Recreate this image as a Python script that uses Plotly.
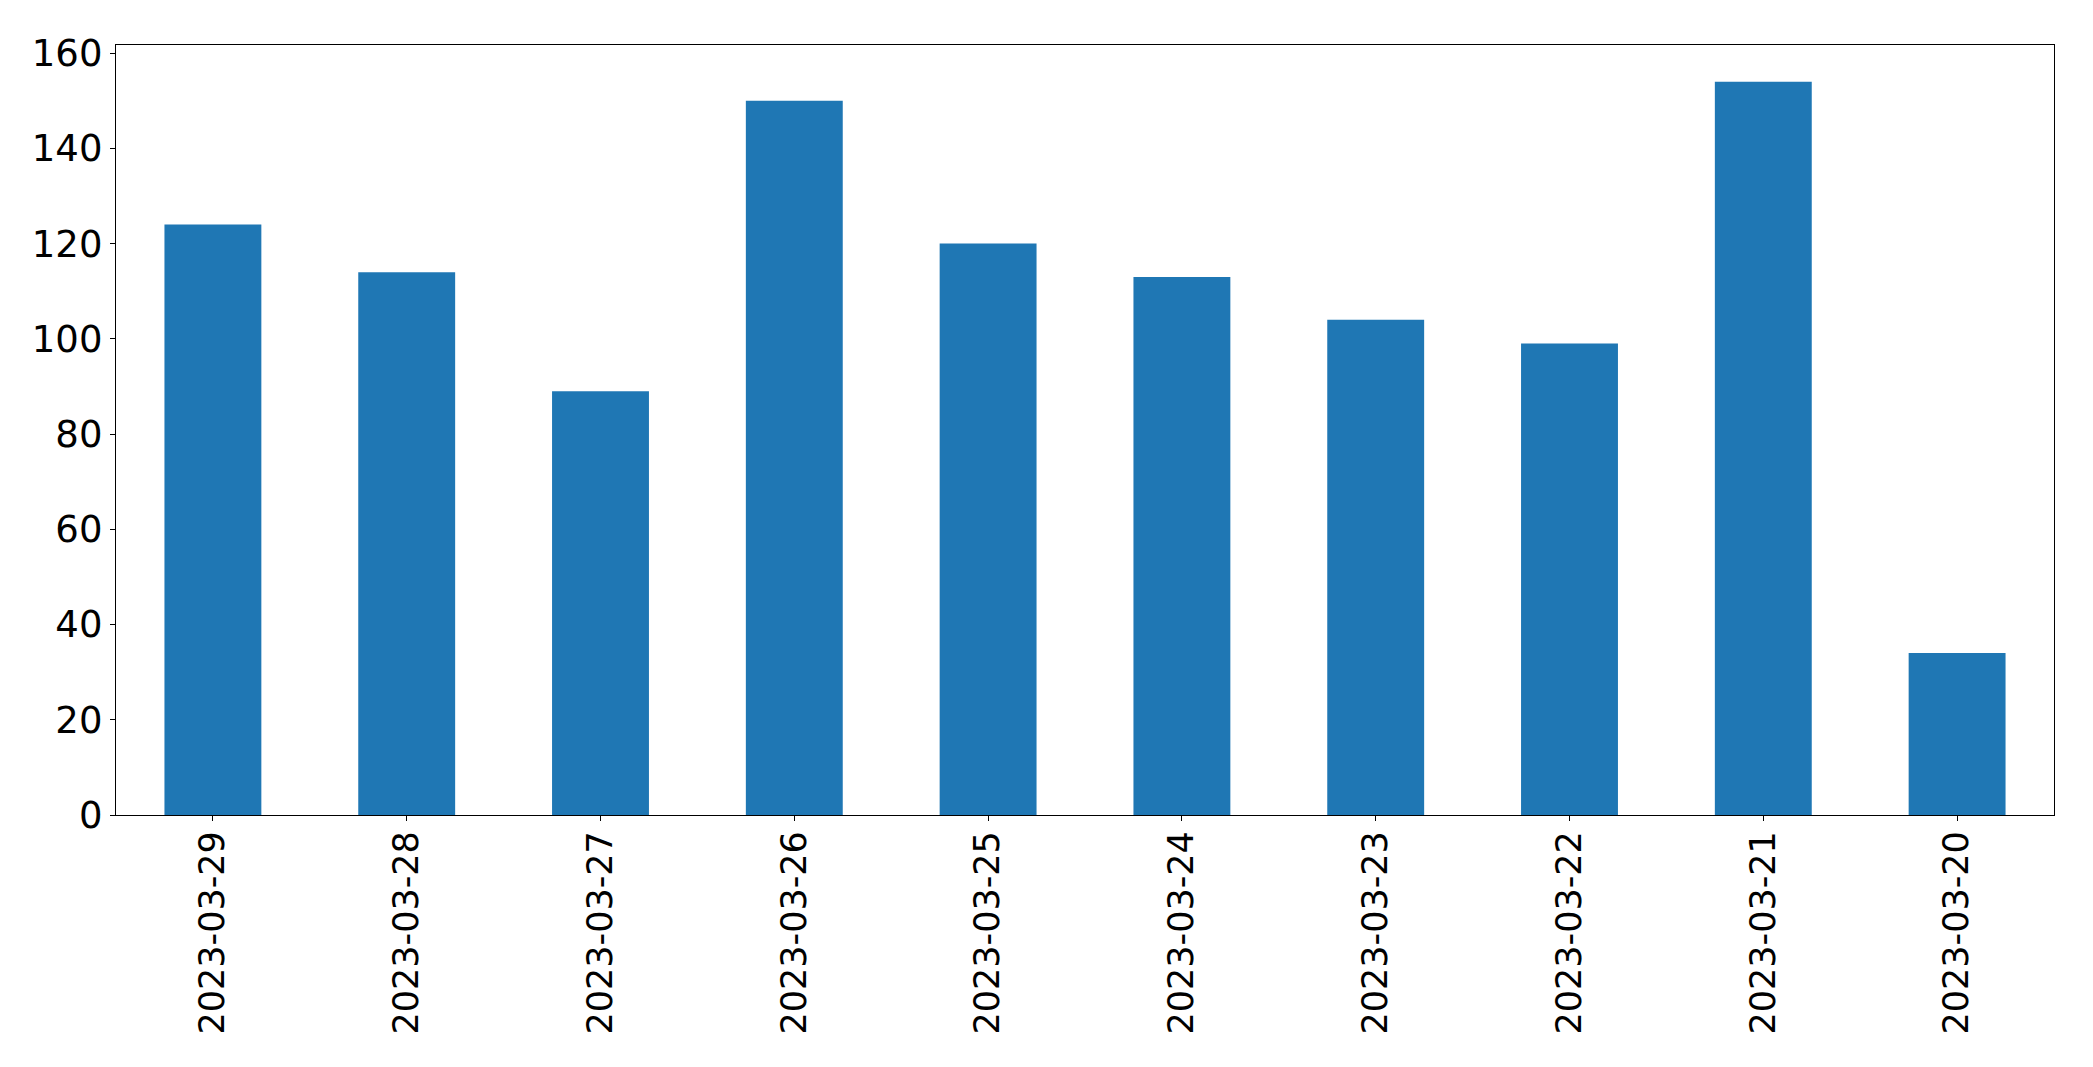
import plotly.graph_objects as go

dates = ["2023-03-29", "2023-03-28", "2023-03-27", "2023-03-26", "2023-03-25",
         "2023-03-24", "2023-03-23", "2023-03-22", "2023-03-21", "2023-03-20"]
counts = [124, 114, 89, 150, 120, 113, 104, 99, 154, 34]
y_ticks = [0, 20, 40, 60, 80, 100, 120, 140, 160]

fig = go.Figure(go.Bar(x=dates, y=counts, marker=dict(color="#1f77b4", line=dict(width=0)),
                       width=0.5))

# page body has an 8px default margin; compensate so the plot frame lands at
# left 116, right 2054, top 45, bottom 815 in the 2093x1067 window
fig.update_layout(
    width=2093, height=1067,
    margin=dict(l=108, r=47, t=37, b=260),
    paper_bgcolor="white", plot_bgcolor="white",
    font=dict(family="DejaVu Sans", size=36, color="black"),
    showlegend=False,
)
fig.update_xaxes(type="category", range=[-0.5, len(dates) - 0.5],
                 showline=True, linecolor="black", linewidth=1.3, mirror=True,
                 ticks="outside", ticklen=5, tickwidth=1.3, tickcolor="black",
                 tickangle=-90, showgrid=False, zeroline=False,
                 tickfont=dict(size=35), ticklabelstandoff=-4)
fig.update_yaxes(range=[0, 161.7], tickvals=y_ticks,
                 showline=True, linecolor="black", linewidth=1.3, mirror=True,
                 ticks="outside", ticklen=5, tickwidth=1.3, tickcolor="black",
                 showgrid=False, zeroline=False,
                 tickfont=dict(size=37))

fig.write_html("out.html")
